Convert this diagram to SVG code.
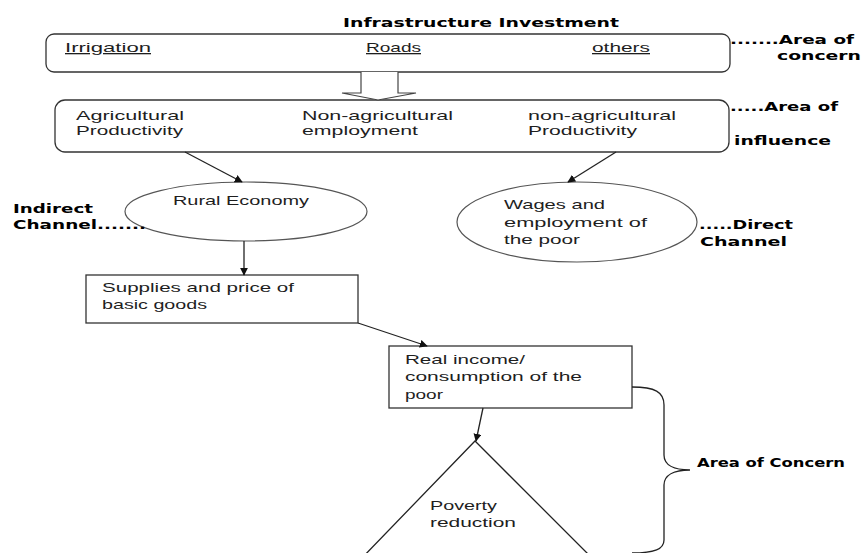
<svg xmlns="http://www.w3.org/2000/svg" width="862" height="553" viewBox="0 0 862 553">
<style>
.t{font-family:"Liberation Sans",Arial,sans-serif;font-size:13px;fill:#1e1e1e}
.b{font-family:"DejaVu Sans","Liberation Sans",sans-serif;font-size:13px;font-weight:bold;fill:#000}
.u{text-decoration:underline}
.box{fill:#fff;stroke:#333;stroke-width:1.3}
.ell{fill:#fff;stroke:#555;stroke-width:1.2}
.con{fill:none;stroke:#222;stroke-width:1.3}
</style>
<defs>
<marker id="ah" viewBox="0 0 10 10" refX="9" refY="5" markerWidth="8" markerHeight="8" markerUnits="userSpaceOnUse" orient="auto">
<path d="M0,0 L10,5 L0,10 Z" fill="#111"/>
</marker>
</defs>
<rect width="862" height="553" fill="#fff"/>
<text class="b" x="343" y="27" textLength="276" lengthAdjust="spacingAndGlyphs">Infrastructure Investment</text>
<g id="investment">
<rect class="box" x="46" y="34" width="684" height="38" rx="8"/>
<text class="t u" x="65" y="52" textLength="86" lengthAdjust="spacingAndGlyphs">Irrigation</text>
<text class="t u" x="366" y="52" textLength="55" lengthAdjust="spacingAndGlyphs">Roads</text>
<text class="t u" x="592" y="52" textLength="58" lengthAdjust="spacingAndGlyphs">others</text>
</g>
<g id="influence">
<rect class="box" x="55" y="100" width="674" height="52" rx="10"/>
<text class="t" x="76" y="120" textLength="108" lengthAdjust="spacingAndGlyphs">Agricultural</text>
<text class="t" x="76" y="135" textLength="107" lengthAdjust="spacingAndGlyphs">Productivity</text>
<text class="t" x="302" y="120" textLength="151" lengthAdjust="spacingAndGlyphs">Non-agricultural</text>
<text class="t" x="302" y="135" textLength="116" lengthAdjust="spacingAndGlyphs">employment</text>
<text class="t" x="528" y="120" textLength="148" lengthAdjust="spacingAndGlyphs">non-agricultural</text>
<text class="t" x="528" y="135" textLength="109" lengthAdjust="spacingAndGlyphs">Productivity</text>
</g>
<g id="rural">
<ellipse class="ell" cx="246" cy="211.5" rx="121" ry="29.5"/>
<text class="t" x="173" y="205" textLength="136" lengthAdjust="spacingAndGlyphs">Rural Economy</text>
</g>
<g id="wages">
<ellipse class="ell" cx="577" cy="222" rx="120" ry="40"/>
<text class="t" x="504" y="209" textLength="101" lengthAdjust="spacingAndGlyphs">Wages and</text>
<text class="t" x="504" y="227" textLength="143" lengthAdjust="spacingAndGlyphs">employment  of</text>
<text class="t" x="504" y="244" textLength="76" lengthAdjust="spacingAndGlyphs">the  poor</text>
</g>
<g id="supplies">
<rect class="box" x="86" y="275" width="272" height="48"/>
<text class="t" x="102" y="292" textLength="192" lengthAdjust="spacingAndGlyphs">Supplies and price of</text>
<text class="t" x="102" y="309" textLength="105" lengthAdjust="spacingAndGlyphs">basic goods</text>
</g>
<g id="income">
<rect class="box" x="389" y="346" width="243" height="62"/>
<text class="t" x="405" y="364" textLength="120" lengthAdjust="spacingAndGlyphs">Real income/</text>
<text class="t" x="405" y="381" textLength="177" lengthAdjust="spacingAndGlyphs">consumption  of the</text>
<text class="t" x="405" y="399" textLength="38" lengthAdjust="spacingAndGlyphs">poor</text>
</g>
<g id="poverty">
<polyline class="con" points="360,560 475,441 594,560"/>
<text class="t" x="430" y="510" textLength="67" lengthAdjust="spacingAndGlyphs">Poverty</text>
<text class="t" x="430" y="527" textLength="86" lengthAdjust="spacingAndGlyphs">reduction</text>
</g>
<g id="connectors">
<path d="M361,72 L361,93 L342,93 L378,100 L416,93 L398,93 L398,72" fill="#fff" stroke="#444" stroke-width="1.2"/>
<line class="con" x1="185" y1="152" x2="242" y2="182" marker-end="url(#ah)"/>
<line class="con" x1="616" y1="152" x2="568" y2="182" marker-end="url(#ah)"/>
<line class="con" x1="244" y1="241" x2="244" y2="275" marker-end="url(#ah)"/>
<line class="con" x1="358" y1="323" x2="427" y2="346" marker-end="url(#ah)"/>
<line class="con" x1="483" y1="408" x2="476" y2="441" marker-end="url(#ah)"/>
<path class="con" d="M632,387 C655,387 664,392 664,405 L664,455 C664,465 674,470 690,470 C674,470 664,475 664,485 L664,540 C664,549 655,553 632,553" stroke="#444"/>
</g>
<g id="labels">
<text class="b" x="730" y="44" textLength="124" lengthAdjust="spacingAndGlyphs">.......Area of</text>
<text class="b" x="777" y="60" textLength="84" lengthAdjust="spacingAndGlyphs">concern</text>
<text class="b" x="730" y="111" textLength="108" lengthAdjust="spacingAndGlyphs">.....Area of</text>
<text class="b" x="734" y="145" textLength="97" lengthAdjust="spacingAndGlyphs">influence</text>
<text class="b" x="13" y="213" textLength="80" lengthAdjust="spacingAndGlyphs">Indirect</text>
<text class="b" x="13" y="229" textLength="133" lengthAdjust="spacingAndGlyphs">Channel.......</text>
<text class="b" x="699" y="229" textLength="94" lengthAdjust="spacingAndGlyphs">.....Direct</text>
<text class="b" x="700" y="246" textLength="87" lengthAdjust="spacingAndGlyphs">Channel</text>
<text class="b" x="697" y="467" textLength="148" lengthAdjust="spacingAndGlyphs">Area of Concern</text>
</g>
</svg>
